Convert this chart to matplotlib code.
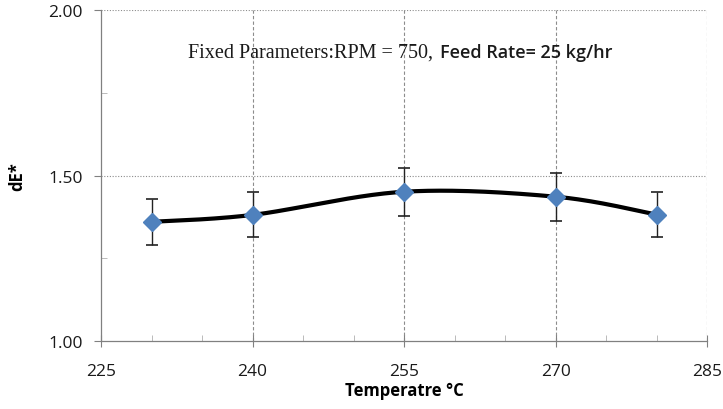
import numpy as np
import matplotlib
matplotlib.use("Agg")
import matplotlib.pyplot as plt
from matplotlib.ticker import MultipleLocator

temps = [230, 240, 255, 270, 280]
dE = [1.360, 1.381, 1.451, 1.436, 1.382]
err = [0.070, 0.068, 0.072, 0.073, 0.068]
x_ticks = [225, 240, 255, 270, 285]
y_ticks = [1.00, 1.50, 2.00]


def smooth(xs, ys, n=40, t=1/6):
    # Excel-like smoothed line (cardinal Bezier through the points)
    xs = np.asarray(xs, float); ys = np.asarray(ys, float)
    px, py = [], []
    for i in range(len(xs) - 1):
        x0, y0 = (xs[i - 1], ys[i - 1]) if i > 0 else (xs[i], ys[i])
        x3, y3 = (xs[i + 2], ys[i + 2]) if i + 2 < len(xs) else (xs[i + 1], ys[i + 1])
        x1, y1, x2, y2 = xs[i], ys[i], xs[i + 1], ys[i + 1]
        c1 = (x1 + (x2 - x0) * t, y1 + (y2 - y0) * t)
        c2 = (x2 - (x3 - x1) * t, y2 - (y3 - y1) * t)
        s = np.linspace(0, 1, n)
        bx = (1-s)**3*x1 + 3*(1-s)**2*s*c1[0] + 3*(1-s)*s**2*c2[0] + s**3*x2
        by = (1-s)**3*y1 + 3*(1-s)**2*s*c1[1] + 3*(1-s)*s**2*c2[1] + s**3*y2
        px.extend(bx); py.extend(by)
    return px, py


fig = plt.figure(figsize=(7.23, 4.10), dpi=100)
ax = fig.add_axes([0.1397, 0.1659, 0.978 - 0.1397, 0.973 - 0.1659])

ax.set_xlim(225, 285)
ax.set_ylim(1.0, 2.0)

for v in x_ticks[1:]:
    ax.axvline(v, color="#8c8c8c", lw=0.8, ls=(0, (3, 2)), zorder=1)
for v in y_ticks[1:]:
    ax.axhline(v, color="#8c8c8c", lw=0.8, ls=(0, (1, 1.5)), zorder=1)

sx, sy = smooth(temps, dE)
ax.plot(sx, sy, color="black", lw=3.0, zorder=3, solid_capstyle="round")
ax.errorbar(temps, dE, yerr=err, fmt="none", ecolor="#222222", elinewidth=1.0,
            capsize=4, capthick=1.2, zorder=2)
ax.plot(temps, dE, ls="none", marker="D", ms=9, color="#4f81bd", zorder=4)

ax.set_xticks(x_ticks)
ax.set_yticks(y_ticks)
ax.set_yticklabels([f"{v:.2f}" for v in y_ticks])
ax.xaxis.set_minor_locator(MultipleLocator(5))
ax.yaxis.set_minor_locator(MultipleLocator(0.25))
ax.tick_params(axis="both", which="major", direction="inout", length=8, width=0.8,
               color="#808080", labelsize=12.5)
ax.tick_params(axis="both", which="minor", direction="in", length=4, width=0.6,
               color="#b0b0b0")
ax.tick_params(axis="x", which="major", pad=12)
ax.tick_params(axis="y", which="major", direction="out", length=5, pad=8)
for lab in ax.get_xticklabels() + ax.get_yticklabels():
    lab.set_fontfamily("Open Sans")
    lab.set_color("#1a1a1a")

for s in ["top", "right"]:
    ax.spines[s].set_visible(False)
for s in ["left", "bottom"]:
    ax.spines[s].set_color("#808080")
    ax.spines[s].set_linewidth(0.9)

ax.set_xlabel("Temperatre °C", fontsize=12, fontweight="bold", family="Open Sans", labelpad=1)
ax.set_ylabel("dE*", fontsize=12, fontweight="bold", family="Open Sans", labelpad=16)

fig.text(188 / 723, 1 - 58 / 410, "Fixed Parameters:RPM = 750,", fontsize=14.5,
         family="Liberation Serif", va="baseline", ha="left", color="#1a1a1a")
fig.text(440 / 723, 1 - 58 / 410, "Feed Rate= 25 kg/hr", fontsize=13,
         family="Open Sans", fontweight="semibold", va="baseline", ha="left",
         color="#1a1a1a")

fig.savefig("out.png", dpi=100)
